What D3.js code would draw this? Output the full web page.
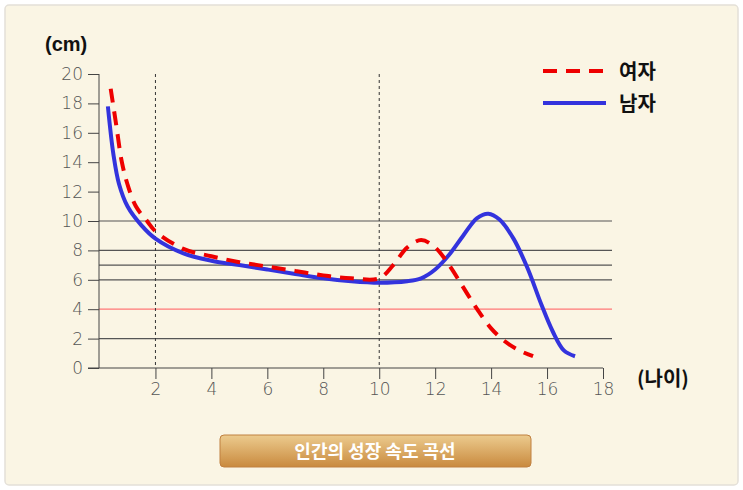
<!DOCTYPE html>
<html><head><meta charset="utf-8">
<script src="https://cdn.jsdelivr.net/npm/d3@7"></script>
<style>body{margin:0;background:#fff}svg{display:block}</style></head>
<body><svg id="c" width="743" height="490"></svg>
<script>
const xTicks=[2,4,6,8,10,12,14,16,18];
const yTicks=[0,2,4,6,8,10,12,14,16,18,20];
const gridLines=[2,6,7,8,10];
const redLine=4;
const vLines=[2,10];
const girlsX=[0.4,0.6,0.8,1,1.3,1.7,2,3,4,5,6,7,8,9,10,10.5,11,11.5,12,12.5,13,13.5,14,14.5,15,15.5];
const girlsY=[19,16.5,14,12.5,11,10,9.3,8.1,7.6,7.2,6.9,6.6,6.3,6.1,6.1,7,8.2,8.7,8.2,7,5.5,4,2.7,1.8,1.2,0.8];
const boysX=[0.3,0.5,0.7,1,1.5,2,3,4,5,6,7,8,9,10,11,11.5,12,12.5,13,13.5,13.9,14.3,14.8,15.3,15.8,16.2,16.6,17];
const boysY=[17.8,14.5,12.5,11,9.7,8.8,7.8,7.3,7,6.7,6.4,6.1,5.9,5.8,5.9,6.1,6.7,7.7,9,10.2,10.5,10.1,8.8,6.8,4.3,2.5,1.2,0.8];

const svg=d3.select("#c");
const defs=svg.append("defs");
const g1=defs.append("linearGradient").attr("id","btn").attr("x1",0).attr("y1",0).attr("x2",0).attr("y2",1);
g1.append("stop").attr("offset","0%").attr("stop-color","#eccb8e");
g1.append("stop").attr("offset","100%").attr("stop-color","#c98a3e");
svg.append("rect").attr("x",5).attr("y",5).attr("width",733).attr("height",480).attr("rx",4).attr("fill","#faf5e4").attr("stroke","#e4e0d8").attr("stroke-width",1.5);

const x=d3.scaleLinear().domain([0,18]).range([99.5,603]);
const y=d3.scaleLinear().domain([0,20]).range([368,74]);
const font="'DejaVu Sans', sans-serif";

svg.selectAll(".gl").data(gridLines).join("line").attr("x1",99).attr("x2",612)
 .attr("y1",d=>y(d)).attr("y2",d=>y(d)).attr("stroke","#555").attr("stroke-width",1.2);
svg.append("line").attr("x1",99).attr("x2",612).attr("y1",y(redLine)).attr("y2",y(redLine)).attr("stroke","#f77").attr("stroke-width",1.2);
svg.selectAll(".vl").data(vLines).join("line").attr("x1",d=>x(d)).attr("x2",d=>x(d))
 .attr("y1",y(20)).attr("y2",y(0)).attr("stroke","#333").attr("stroke-dasharray","3,3");

const ya=svg.append("g").attr("transform","translate(99,0)").call(d3.axisLeft(y).tickValues(yTicks).tickSize(11).tickPadding(5));
const xa=svg.append("g").attr("transform","translate(0,368)").call(d3.axisBottom(x).tickValues(xTicks).tickSize(11).tickPadding(4));
[ya,xa].forEach(a=>{a.select(".domain").remove();a.selectAll("line").attr("stroke","#444");
 a.selectAll("text").attr("font-family",font).attr("font-size",17).attr("font-weight",300).attr("fill","#555");});
xa.append("line").attr("x1",88).attr("x2",603).attr("stroke","#444");
ya.append("line").attr("y1",y(20)).attr("y2",y(0)).attr("stroke","#444");

const line=d3.line().curve(d3.curveCatmullRom.alpha(0.5));
svg.append("path").attr("d",line(boysX.map((v,i)=>[x(v),y(boysY[i])]))).attr("fill","none").attr("stroke","#3333dd").attr("stroke-width",4);
svg.append("path").attr("d",line(girlsX.map((v,i)=>[x(v),y(girlsY[i])]))).attr("fill","none").attr("stroke","#ee0000").attr("stroke-width",4).attr("stroke-dasharray","14,9");

svg.append("text").attr("x",45).attr("y",51).text("(cm)").attr("font-family","'Liberation Sans', sans-serif").attr("font-weight","bold").attr("font-size",20).attr("fill","#111");
svg.append("text").attr("x",637).attr("y",386).text("(나이)").attr("font-family","'Noto Sans CJK KR'").attr("font-weight","bold").attr("font-size",20).attr("fill","#111");

svg.append("line").attr("x1",543).attr("x2",606).attr("y1",71).attr("y2",71).attr("stroke","#ee0000").attr("stroke-width",4).attr("stroke-dasharray","14,9");
svg.append("line").attr("x1",543).attr("x2",606).attr("y1",103).attr("y2",103).attr("stroke","#3333dd").attr("stroke-width",4);
svg.append("text").attr("x",619).attr("y",79).text("여자").attr("font-family","'Noto Sans CJK KR'").attr("font-weight","bold").attr("font-size",20).attr("fill","#111");
svg.append("text").attr("x",619).attr("y",111).text("남자").attr("font-family","'Noto Sans CJK KR'").attr("font-weight","bold").attr("font-size",20).attr("fill","#111");

svg.append("rect").attr("x",220).attr("y",435).attr("width",311).attr("height",32).attr("rx",4).attr("fill","url(#btn)").attr("stroke","#c08040");
svg.append("text").attr("x",375).attr("y",458).attr("text-anchor","middle").text("인간의 성장 속도 곡선").attr("font-family","'Noto Sans CJK KR'").attr("font-weight","bold").attr("font-size",18).attr("fill","#fff");
</script></body></html>
